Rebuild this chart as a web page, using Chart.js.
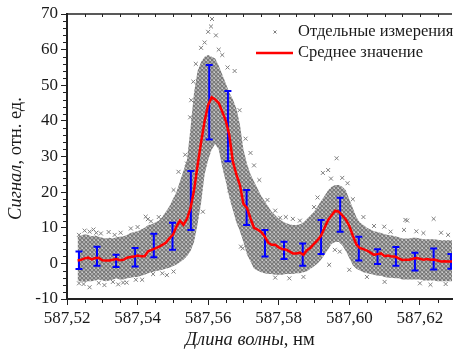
<!DOCTYPE html>
<html>
<head>
<meta charset="utf-8">
<script src="https://cdn.jsdelivr.net/npm/chart.js@4.4.0/dist/chart.umd.min.js"></script>
<style>
  html, body { margin: 0; padding: 0; background: #fff; }
</style>
</head>
<body>
<canvas id="chart" width="457" height="355"></canvas>
<script>
// wavelength grid of the averaged spectrum, nm
const wavelengths = [
  587.523, 587.524, 587.525, 587.526, 587.527, 587.528, 587.529, 587.530, 587.531, 587.532,
  587.533, 587.534, 587.535, 587.536, 587.537, 587.538, 587.539, 587.540, 587.541, 587.542,
  587.543, 587.544, 587.545, 587.546, 587.547, 587.548, 587.549, 587.550, 587.551, 587.552,
  587.553, 587.554, 587.555, 587.556, 587.557, 587.558, 587.559, 587.560, 587.561, 587.562,
  587.563, 587.564, 587.565, 587.566, 587.567, 587.568, 587.569, 587.570, 587.571, 587.572,
  587.573, 587.574, 587.575, 587.576, 587.577, 587.578, 587.579, 587.580, 587.581, 587.582,
  587.583, 587.584, 587.585, 587.586, 587.587, 587.588, 587.589, 587.590, 587.591, 587.592,
  587.593, 587.594, 587.595, 587.596, 587.597, 587.598, 587.599, 587.600, 587.601, 587.602,
  587.603, 587.604, 587.605, 587.606, 587.607, 587.608, 587.609, 587.610, 587.611, 587.612,
  587.613, 587.614, 587.615, 587.616, 587.617, 587.618, 587.619, 587.620, 587.621, 587.622,
  587.623, 587.624, 587.625, 587.626, 587.627, 587.628, 587.629, 587.630
];

// averaged signal
const meanSignal = [
  0.8, 1.0, 1.4, 1.6, 1.1, 1.5, 1.6, 0.9, 0.8, 0.8,
  1.0, 1.2, 0.9, 1.0, 1.6, 1.8, 1.9, 2.2, 2.0, 2.0,
  3.4, 3.8, 4.2, 4.6, 5.2, 5.8, 7.0, 8.0, 10.3, 12.0,
  10.8, 12.5, 15.5, 20.5, 27.5, 34.0, 40.0, 44.5, 46.6, 46.0,
  45.0, 42.6, 40.0, 36.0, 28.6, 25.0, 22.0, 16.7, 15.6, 12.6,
  10.0, 9.5, 8.8, 7.6, 5.8, 5.2, 5.2, 4.5, 4.0, 3.9,
  3.4, 2.8, 2.8, 3.0, 2.4, 3.7, 4.4, 5.5, 6.5, 7.8,
  10.0, 12.2, 13.5, 14.8, 14.5, 13.5, 12.3, 10.5, 7.8, 5.3,
  4.3, 4.0, 3.6, 3.0, 2.4, 2.6, 2.8, 2.0, 2.2, 1.9,
  1.9, 1.4, 0.95, 1.0, 1.0, 1.3, 1.5, 1.3, 1.0, 1.2,
  1.0, 1.1, 0.8, 0.5, 0.6, 0.5, 0.5, 0.6
];

// lower and upper edge of the dense cloud of single measurements
const spreadLow = [
  -5.0, -5.0, -5.2, -5.0, -5.0, -4.8, -4.5, -4.8, -5.0, -4.8,
  -4.5, -4.2, -4.5, -4.5, -4.2, -4.0, -3.8, -3.8, -3.5, -3.2,
  -2.8, -2.5, -2.2, -2.0, -1.8, -1.5, -1.2, -0.8, -0.3, 0.3,
  1.0, 2.0, 3.5, 6.0, 11.0, 17.0, 25.0, 29.0, 32.0, 33.5,
  32.0, 27.0, 23.0, 18.5, 15.0, 11.5, 9.0, 6.0, 2.5, 0.5,
  -1.5, -2.0, -2.5, -2.8, -3.0, -3.0, -3.2, -3.2, -3.2, -3.0,
  -3.0, -3.0, -2.8, -2.8, -2.5, -2.2, -1.5, -0.8, 0.0, 1.0,
  2.5, 4.0, 5.5, 6.0, 6.0, 5.0, 3.5, 1.5, -0.5, -1.5,
  -2.0, -2.5, -2.8, -3.0, -3.2, -3.5, -3.5, -3.8, -4.0, -4.0,
  -4.2, -4.2, -4.5, -4.5, -4.5, -4.5, -4.5, -4.5, -4.8, -4.8,
  -4.8, -4.8, -5.0, -5.0, -5.0, -5.0, -5.0, -5.0
];
const spreadHigh = [
  7.5, 7.8, 8.2, 8.0, 7.6, 7.8, 7.5, 7.2, 7.0, 7.2,
  7.0, 7.3, 7.5, 7.6, 8.0, 8.5, 8.8, 9.0, 9.5, 10.0,
  10.8, 11.0, 11.5, 12.0, 13.0, 14.5, 16.0, 18.0, 20.0, 23.0,
  26.0, 29.0, 38.0, 48.0, 54.0, 56.5, 58.0, 58.5, 58.0, 57.5,
  55.5, 53.0, 50.5, 48.0, 46.0, 43.5, 39.0, 32.0, 28.0, 25.0,
  23.0, 21.0, 19.0, 17.5, 16.0, 14.5, 13.5, 12.5, 11.8, 11.3,
  11.0, 10.8, 10.8, 11.0, 11.5, 12.5, 13.5, 14.5, 16.0, 17.5,
  19.0, 20.5, 21.5, 22.0, 22.0, 21.5, 20.5, 18.0, 15.5, 13.0,
  11.5, 10.8, 10.0, 9.5, 9.0, 8.8, 8.5, 8.2, 8.0, 7.8,
  7.6, 7.3, 7.0, 7.0, 7.0, 7.2, 7.2, 7.0, 6.8, 6.8,
  6.8, 6.8, 6.6, 6.5, 6.5, 6.5, 6.5, 6.5
];

// single measurements lying on the fringe of the dense cloud
const singleWl = [
  587.5234, 587.5264, 587.5306, 587.5359, 587.5369, 587.5413, 587.5423, 587.5429,
  587.5234, 587.5264, 587.5283, 587.5381, 587.5444, 587.5483, 587.5502, 587.5502,
  587.5516, 587.5611, 587.5608, 587.5600, 587.5622, 587.5552, 587.5549, 587.5558,
  587.5689, 587.5706, 587.5675, 587.5745, 587.5768, 587.5804, 587.5693, 587.5698,
  587.5964, 587.5940, 587.5925, 587.5973, 587.5943, 587.5959, 587.6099, 587.6159,
  587.6239, 587.6164, 587.6155, 587.6117, 587.6273,
  587.5250, 587.5275, 587.5296, 587.5318, 587.5335, 587.5352, 587.5400, 587.5247,
  587.5290, 587.5330, 587.5345, 587.5395, 587.5438, 587.5460, 587.5470,
  587.5535, 587.5540, 587.5565, 587.5580, 587.5590, 587.5630, 587.5640, 587.5655,
  587.5720, 587.5730, 587.5585, 587.5660, 587.5790, 587.5820, 587.5840, 587.5860,
  587.5790, 587.5830, 587.5870,
  587.5900, 587.5910, 587.5948, 587.5980, 587.5995, 587.6010, 587.6040, 587.6000,
  587.6050, 587.6070, 587.6190, 587.6210, 587.6260, 587.6280, 587.6100, 587.6200,
  587.6230
];
const singleVal = [
  -5.6, -6.7, -6.1, -5.4, -5.4, -4.6, 13.1, 12.4,
  8.0, 8.9, 8.6, 9.8, -3.0, -3.3, -2.3, 20.6,
  25.7, 68.6, 66.5, 65.0, 64.0, 45.8, 41.0, 51.0,
  43.0, 35.0, 54.0, 23.4, 17.8, 12.8, 4.7, 4.2,
  29.5, 26.2, 25.4, 3.3, -0.4, 3.8, 10.3, 12.2,
  12.5, 12.0, 9.4, 8.9, -5.8,
  9.2, 9.5, 8.4, 8.8, 8.0, 8.6, 10.2, -5.8,
  -5.5, -5.2, -5.9, -4.6, 11.8, 13.0, -2.8,
  30.5, 28.0, 56.0, 60.5, 62.0, 60.0, 58.5, 55.0,
  31.0, 27.5, 14.5, 20.5, 14.8, 13.0, 12.5, 12.0,
  -4.0, -4.2, -3.8,
  15.8, 18.5, 23.8, 24.0, 22.5, 18.0, 13.0, -1.8,
  -3.8, 10.5, 9.0, 8.5, 8.6, 8.0, -5.2, -5.6,
  -6.0
];

// error bars of the mean
const barWl = [
  587.5234, 587.5285, 587.5339, 587.5393, 587.5446, 587.5499, 587.5551, 587.5603,
  587.5656, 587.5709, 587.5761, 587.5815, 587.5868, 587.5920, 587.5974, 587.6027,
  587.6080, 587.6132, 587.6186, 587.6239, 587.6288
];
const barLow = [
  -1.6, -0.7, -1.0, -0.9, 1.7, 3.8, 9.4, 34.8, 28.7, 10.8, 1.9,
  1.2, -0.7, 2.6, 8.9, 0.8, -0.2, -0.7, -2.0, -1.7, -1.5
];
const barHigh = [
  3.3, 4.7, 2.4, 4.3, 8.3, 11.4, 25.9, 55.7, 48.4, 20.6, 9.4,
  6.1, 5.6, 12.2, 18.4, 7.5, 4.0, 4.6, 3.0, 4.2, 2.6
];

// axis ticks
const xMajor = [587.52, 587.54, 587.56, 587.58, 587.60, 587.62];
const xMinor = [
  587.525, 587.530, 587.535, 587.545, 587.550, 587.555, 587.565, 587.570,
  587.575, 587.585, 587.590, 587.595, 587.605, 587.610, 587.615, 587.625
];
const yMajor = [-10, 0, 10, 20, 30, 40, 50, 60, 70];
const yMinor = [
  -8, -6, -4, -2, 2, 4, 6, 8, 12, 14, 16, 18, 22, 24, 26, 28,
  32, 34, 36, 38, 42, 44, 46, 48, 52, 54, 56, 58, 62, 64, 66, 68
];

const SERIF = "'Liberation Serif', 'Times New Roman', serif";
const INK = '#1a1a1a';
Chart.defaults.font.family = SERIF;
Chart.defaults.color = INK;

// texture of overlapping gray crosses for the measurement cloud
function crossPattern() {
  const c = document.createElement('canvas');
  c.width = 4; c.height = 4;
  const g = c.getContext('2d');
  g.fillStyle = '#a9a9a9';
  g.fillRect(0, 0, 4, 4);
  g.fillStyle = '#7b7b7b';
  for (let i = 0; i < 4; i++) {
    g.fillRect(i, i, 1, 1);
    g.fillRect(3 - i, i, 1, 1);
  }
  g.fillStyle = '#cfcfcf';
  g.fillRect(2, 0, 1, 1);
  return g.createPattern(c, 'repeat');
}

const pairs = (xs, ys) => xs.map((v, i) => ({ x: v, y: ys[i] }));

// blue error bars, drawn right after the scatter layer
const errorBars = {
  id: 'errorBars',
  afterDatasetDraw(chart, args) {
    if (args.index !== 2) return;
    const { ctx, chartArea: a, scales: { x, y } } = chart;
    ctx.save();
    ctx.beginPath();
    ctx.rect(a.left, a.top, a.right - a.left, a.bottom - a.top);
    ctx.clip();
    ctx.strokeStyle = '#0000ff';
    ctx.lineWidth = 2;
    ctx.beginPath();
    barWl.forEach((w, i) => {
      const px = x.getPixelForValue(w);
      const lo = y.getPixelForValue(barLow[i]);
      const hi = y.getPixelForValue(barHigh[i]);
      ctx.moveTo(px, lo); ctx.lineTo(px, hi);
      ctx.moveTo(px - 3.5, lo); ctx.lineTo(px + 3.5, lo);
      ctx.moveTo(px - 3.5, hi); ctx.lineTo(px + 3.5, hi);
    });
    ctx.stroke();
    ctx.restore();
  }
};

// top border, minor ticks, legend and axis titles
const decorations = {
  id: 'decorations',
  afterDraw(chart) {
    const { ctx, chartArea: a, scales: { x, y } } = chart;
    ctx.save();
    ctx.strokeStyle = '#222';
    ctx.lineWidth = 1.5;
    ctx.beginPath();
    ctx.moveTo(a.left, a.top);
    ctx.lineTo(a.right, a.top);
    ctx.stroke();

    ctx.lineWidth = 1;
    ctx.beginPath();
    xMinor.forEach(v => {
      const px = Math.round(x.getPixelForValue(v)) + 0.5;
      ctx.moveTo(px, a.bottom + 1); ctx.lineTo(px, a.bottom + 4);
    });
    xMajor.concat(xMinor).forEach(v => {
      const px = Math.round(x.getPixelForValue(v)) + 0.5;
      ctx.moveTo(px, a.top); ctx.lineTo(px, a.top + 3);
    });
    yMinor.forEach(v => {
      const py = Math.round(y.getPixelForValue(v)) + 0.5;
      ctx.moveTo(a.left - 4, py); ctx.lineTo(a.left - 1, py);
    });
    ctx.stroke();

    // legend
    const scatterSet = chart.data.datasets[2];
    const meanSet = chart.data.datasets[3];
    ctx.font = '16.5px ' + SERIF;
    ctx.fillStyle = INK;
    ctx.textBaseline = 'middle';
    ctx.textAlign = 'left';
    ctx.strokeStyle = scatterSet.borderColor;
    ctx.lineWidth = 1;
    ctx.beginPath();
    ctx.moveTo(273.5, 30.5); ctx.lineTo(276.5, 33.5);
    ctx.moveTo(276.5, 30.5); ctx.lineTo(273.5, 33.5);
    ctx.stroke();
    ctx.fillText(scatterSet.label, 298, 32);
    ctx.strokeStyle = meanSet.borderColor;
    ctx.lineWidth = 2.5;
    ctx.beginPath();
    ctx.moveTo(256, 53); ctx.lineTo(293, 53);
    ctx.stroke();
    ctx.fillText(meanSet.label, 298, 53);

    // axis titles: italic quantity, upright unit
    ctx.textBaseline = 'alphabetic';
    const mixed = (parts, cx, cy) => {
      let w = 0;
      parts.forEach(p => { ctx.font = p.f; w += ctx.measureText(p.t).width; });
      let cur = cx - w / 2;
      parts.forEach(p => { ctx.font = p.f; ctx.fillText(p.t, cur, cy); cur += ctx.measureText(p.t).width; });
    };
    const it = 'italic 18.5px ' + SERIF, up = '18.5px ' + SERIF;
    mixed([{ t: 'Длина волны', f: it }, { t: ', нм', f: up }], 250, 345);
    ctx.translate(21, (a.top + a.bottom) / 2 + 2);
    ctx.rotate(-Math.PI / 2);
    mixed([{ t: 'Сигнал', f: it }, { t: ', отн. ед.', f: up }], 0, 0);
    ctx.restore();
  }
};

new Chart(document.getElementById('chart'), {
  type: 'scatter',
  data: {
    datasets: [
      {
        type: 'line',
        data: pairs(wavelengths, spreadLow),
        borderColor: 'rgba(0,0,0,0)',
        borderWidth: 0,
        pointRadius: 0,
        fill: false,
        order: 4
      },
      {
        type: 'line',
        data: pairs(wavelengths, spreadHigh),
        borderColor: 'rgba(0,0,0,0)',
        borderWidth: 0,
        pointRadius: 0,
        backgroundColor: crossPattern(),
        fill: '-1',
        order: 3
      },
      {
        label: 'Отдельные измерения',
        data: pairs(singleWl, singleVal),
        pointStyle: 'crossRot',
        pointRadius: 2.8,
        borderColor: '#7f7f7f',
        borderWidth: 1,
        order: 2
      },
      {
        type: 'line',
        label: 'Среднее значение',
        data: pairs(wavelengths, meanSignal),
        borderColor: '#ff0000',
        borderWidth: 2.5,
        pointRadius: 0,
        tension: 0,
        fill: false,
        order: 1
      }
    ]
  },
  options: {
    responsive: false,
    animation: false,
    devicePixelRatio: 1,
    layout: { padding: { top: 14, right: 0, bottom: 0, left: 0 } },
    plugins: { legend: { display: false }, tooltip: { enabled: false } },
    scales: {
      x: {
        type: 'linear',
        min: 587.52,
        max: 587.6291,
        afterBuildTicks: s => { s.ticks = xMajor.map(v => ({ value: v })); },
        afterFit: s => { s.height = 56; },
        ticks: {
          font: { size: 17 },
          padding: 3,
          maxRotation: 0,
          autoSkip: false,
          includeBounds: false,
          callback: v => v.toFixed(2).replace('.', ',')
        },
        grid: { drawOnChartArea: false, tickLength: 6, tickColor: '#222', tickWidth: 1 },
        border: { color: '#222', width: 2 }
      },
      y: {
        min: -10,
        max: 70,
        afterBuildTicks: s => { s.ticks = yMajor.map(v => ({ value: v })); },
        afterFit: s => { s.width = 67; },
        ticks: { font: { size: 17 }, padding: 3 },
        grid: { drawOnChartArea: false, tickLength: 6, tickColor: '#222', tickWidth: 1 },
        border: { color: '#222', width: 2 }
      }
    }
  },
  plugins: [errorBars, decorations]
});
</script>
</body>
</html>
